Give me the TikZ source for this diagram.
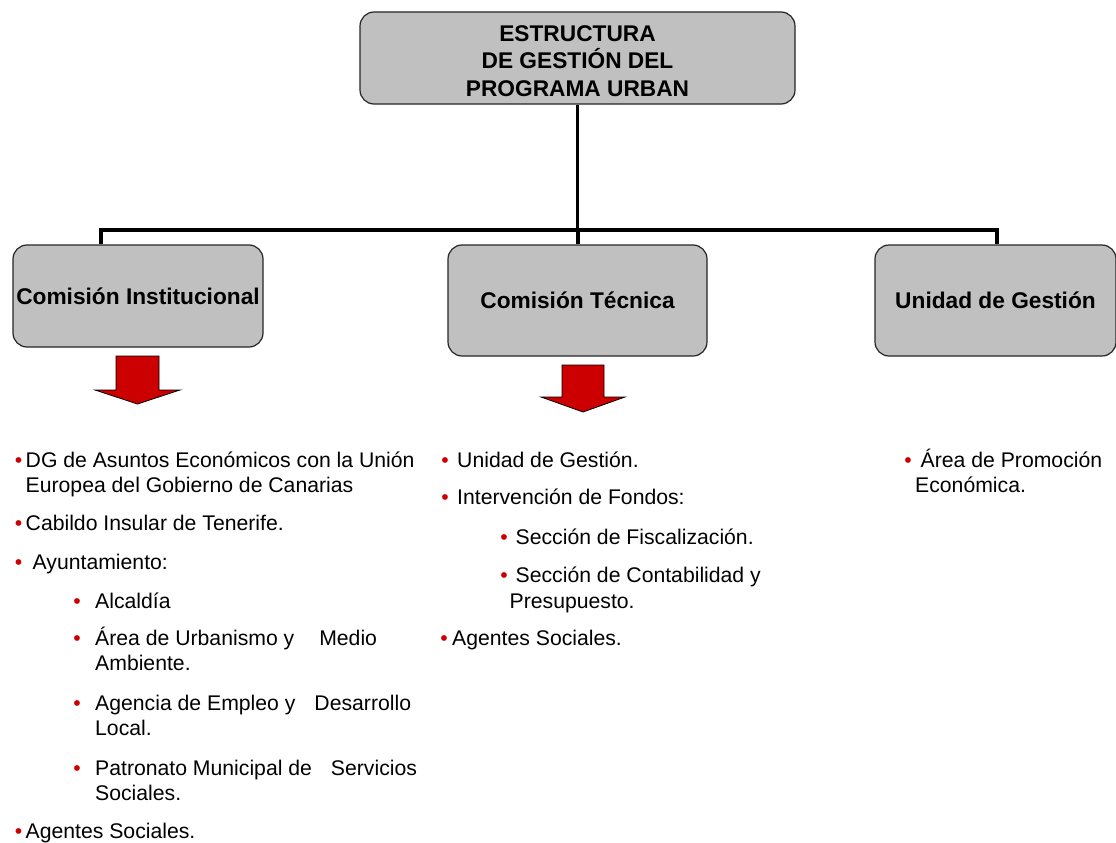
\documentclass[tikz,border=0pt]{standalone}
\usepackage{fontspec}
\setmainfont{Liberation Sans}
\definecolor{boxgray}{HTML}{C0C0C0}
\definecolor{bulred}{HTML}{CC0000}
\begin{document}
\begin{tikzpicture}[x=1pt, y=-1pt,
    box/.style={rectangle, draw=black!85, line width=1.2pt, fill=boxgray, rounded corners=14pt, inner sep=0pt, align=center, font=\bfseries\fontsize{22.7}{27.5}\selectfont},
    boxtext/.style={inner sep=0pt, align=center, font=\bfseries\fontsize{22.7}{27.5}\selectfont},
    bus/.style={line width=4pt, line join=miter},
    blockarrow/.style={draw=black, line width=0.8pt, fill=bulred, line join=miter},
    dot/.style={anchor=base, inner sep=0pt, text=bulred, font=\fontsize{21.2}{25}\selectfont},
    item/.style={anchor=base west, inner sep=0pt, font=\fontsize{21.2}{25}\selectfont}
]
\useasboundingbox (0,0) rectangle (1116,843);

% Boxes
\node[box, minimum width=435pt, minimum height=92pt] (title) at (577.5,58) {};
\node[boxtext] (titletext) at ([yshift=-3pt]title.center) {ESTRUCTURA\\DE GESTIÓN DEL\\PROGRAMA URBAN};
\node[box, minimum width=250pt, minimum height=102pt] (ci) at (138,296) {Comisión Institucional};
\node[box, minimum width=259pt, minimum height=111pt] (ct) at (577.5,300.5) {Comisión Técnica};
\node[box, minimum width=241pt, minimum height=111pt] (ug) at (995.5,300.5) {Unidad de Gestión};

% Connectors
\draw[line width=3.5pt] (title.south) -- ++(0,126) coordinate (hub);
\coordinate (busL) at (101,230);
\coordinate (busR) at (997,230);
\draw[bus] (busL |- ci.north) -- (busL) -- (busR) -- (busR |- ug.north);
\draw[bus] (hub) -- (ct.north);

% Arrows
\draw[blockarrow] (116,356) -- (159,356) -- (159,390) -- (180,390) -- (137.5,404) -- (95,390) -- (116,390) -- cycle;
\draw[blockarrow] (562,365) -- (604,365) -- (604,397) -- (625,397) -- (583,412) -- (541,397) -- (562,397) -- cycle;

% Bullets
\foreach \bx/\y [count=\i] in {18.6/467, 18.6/530, 18.6/569, 77/608, 77/645, 77/710, 77/775, 18.6/838,
    445/467, 445/504, 504/544, 504/582, 444/645, 908/467}
  \node[dot] (dot\i) at (\bx,\y) {\textbullet};

% Lists
\foreach \tx/\y/\txt [count=\i] in {
    25.5/467/DG de Asuntos Económicos con la Unión,
    25.5/492/Europea del Gobierno de Canarias,
    25.5/530/Cabildo Insular de Tenerife.,
    32.5/569/Ayuntamiento:,
    95/608/Alcaldía,
    95/645/{Área de Urbanismo y\hspace{25pt}Medio},
    95/670/Ambiente.,
    95/710/{Agencia de Empleo y\hspace{19pt}Desarrollo},
    95/735/Local.,
    95/775/{Patronato Municipal de\hspace{19pt}Servicios},
    95/800/Sociales.,
    25.5/838/Agentes Sociales.,
    457/467/Unidad de Gestión.,
    457/504/Intervención de Fondos:,
    515.5/544/Sección de Fiscalización.,
    515.5/582/Sección de Contabilidad y,
    509.5/608/Presupuesto.,
    452/645/Agentes Sociales.,
    920.5/467/Área de Promoción,
    915/492/Económica.}
  \node[item] (line\i) at (\tx,\y) {\txt};
\end{tikzpicture}
\end{document}
